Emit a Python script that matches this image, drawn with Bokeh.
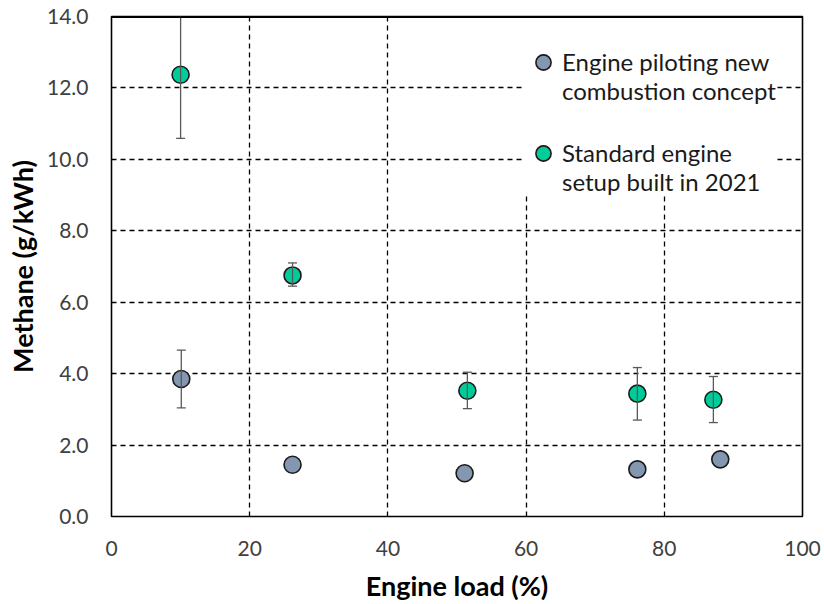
from bokeh.plotting import figure
from bokeh.models import (ColumnDataSource, FixedTicker, NumeralTickFormatter, Whisker,
                          TeeHead, Legend, LegendItem, Range1d, Span)
from bokeh.embed import file_html
from bokeh.resources import INLINE

# Data
new_load = [10.1, 26.2, 51.1, 76.1, 88.1]
new_ch4 = [3.85, 1.45, 1.21, 1.32, 1.60]
new_err_load = [10.1]
new_lo = [3.04]
new_hi = [4.66]

std_load = [10.0, 26.2, 51.5, 76.1, 87.1]
std_ch4 = [12.37, 6.75, 3.52, 3.44, 3.27]
std_lo = [10.59, 6.45, 3.02, 2.70, 2.63]
std_hi = [14.15, 7.10, 4.04, 4.17, 3.92]

x_ticks = [0, 20, 40, 60, 80, 100]
y_ticks = [0, 2, 4, 6, 8, 10, 12, 14]

label_new = ["Engine piloting new", "combustion concept"]
label_std = ["Standard engine", "setup built in 2021"]

FONT = "Lato"
BLUE = "#8497B0"
GREEN = "#00CC99"

p = figure(width=824, height=604, output_backend="svg", toolbar_location=None,
           x_range=Range1d(x_ticks[0], x_ticks[-1]), y_range=Range1d(y_ticks[0], y_ticks[-1]),
           min_border_left=111, min_border_right=22, min_border_top=16, min_border_bottom=87)
p.background_fill_color = "white"
p.border_fill_color = "white"
p.outline_line_color = "black"
p.outline_line_width = 1.6
p.outline_line_alpha = 1.0

for ax in (p.xaxis[0], p.yaxis[0]):
    ax.axis_line_color = None
    ax.major_tick_line_color = None
    ax.minor_tick_line_color = None
    ax.major_label_text_font = FONT
    ax.major_label_text_font_size = "21px"
    ax.major_label_text_color = "#404040"
    ax.axis_label_text_font = FONT
    ax.axis_label_text_font_style = "bold"
    ax.axis_label_text_font_size = "27px"
    ax.axis_label_text_color = "black"

p.xaxis.ticker = FixedTicker(ticks=x_ticks)
p.yaxis.ticker = FixedTicker(ticks=y_ticks)
p.yaxis.formatter = NumeralTickFormatter(format="0.0")
p.xaxis.axis_label = "Engine load (%)"
p.yaxis.axis_label = "Methane (g/kWh)"
p.xaxis.major_label_standoff = 18
p.yaxis.major_label_standoff = 17
p.xaxis.axis_label_standoff = 10
p.yaxis.axis_label_standoff = 5

for g in (p.xgrid[0], p.ygrid[0]):
    g.grid_line_color = "black"
    g.grid_line_dash = "5 4"
    g.grid_line_width = 1.3

src_new = ColumnDataSource(dict(x=new_load, y=new_ch4))
src_std = ColumnDataSource(dict(x=std_load, y=std_ch4))

err_new = ColumnDataSource(dict(x=new_err_load, lo=new_lo, hi=new_hi))
err_std = ColumnDataSource(dict(x=std_load, lo=std_lo, hi=std_hi))

for es in (err_new, err_std):
    w = Whisker(source=es, base="x", lower="lo", upper="hi", dimension="height",
                line_color="#595959", line_width=1.3,
                upper_head=TeeHead(size=9, line_color="#595959", line_width=1.3),
                lower_head=TeeHead(size=9, line_color="#595959", line_width=1.3),
                level="glyph")
    p.add_layout(w)

r_new = p.scatter("x", "y", source=src_new, size=17, fill_color=BLUE,
                  line_color="#1a1a1a", line_width=1.6)
r_std = p.scatter("x", "y", source=src_std, size=17, fill_color=GREEN,
                  line_color="#1a1a1a", line_width=1.6)

# a leading blank line keeps the legend marker level with the first text line
legend = Legend(items=[
    LegendItem(label=" \n" + "\n".join(label_new), renderers=[r_new]),
    LegendItem(label=" \n" + "\n".join(label_std), renderers=[r_std]),
], location=(413, 320))
legend.label_text_font = FONT
legend.label_text_font_size = "24px"
legend.label_text_line_height = 1.2
legend.label_text_color = "#1a1a1a"
legend.background_fill_color = "white"
legend.background_fill_alpha = 1.0
legend.border_line_color = None
legend.glyph_width = 38
legend.glyph_height = 38
legend.spacing = 4
legend.padding = 0
legend.margin = 0
legend.label_standoff = 0
p.add_layout(legend)

# redraw the top edge of the plot frame after the legend box
p.add_layout(Span(location=y_ticks[-1], dimension="width", line_color="black",
                  line_width=3))

open("out.html", "w").write(file_html(p, INLINE))
